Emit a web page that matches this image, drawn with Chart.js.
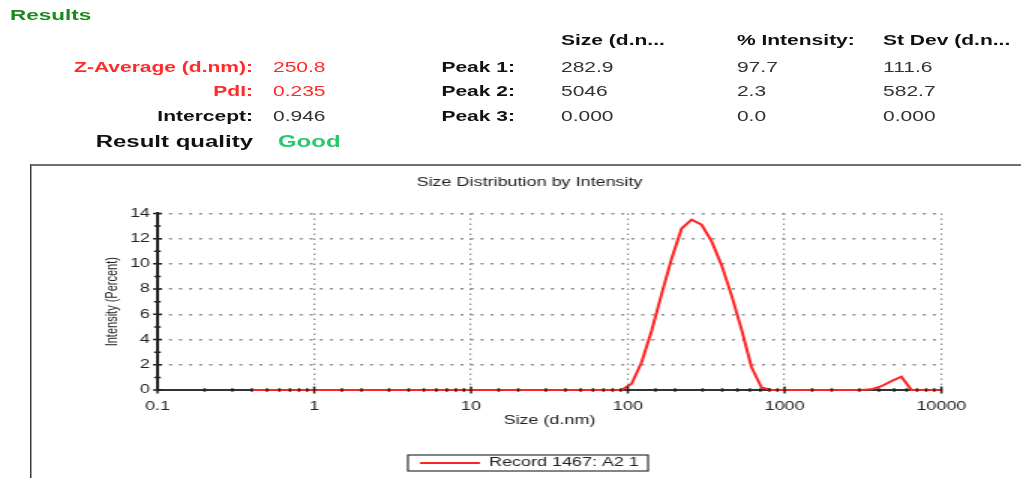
<!DOCTYPE html>
<html>
<head>
<meta charset="utf-8">
<script src="https://cdn.jsdelivr.net/npm/chart.js@4.4.1/dist/chart.umd.min.js"></script>
<style>
    html, body { margin: 0; padding: 0; background: #fff; width: 1021px; height: 478px; overflow: hidden; }
    /* the report is laid out narrow and stretched sideways, like the original screenshot */
    #page { position: absolute; left: 0; top: 0; width: 681px; height: 478px; transform: scaleX(1.5); transform-origin: 0 0;
            font-family: "Liberation Sans", Arial, sans-serif; color: #111; }
    .t { position: absolute; font-size: 14px; line-height: 16px; white-space: nowrap; }
    .b { font-weight: bold; }
    .lab { left: 0; width: 168.7px; text-align: right; }
    .pk { left: 0; width: 343.3px; text-align: right; }
    .red { color: #ff2a2a; }
    #frame { position: absolute; left: 20px; top: 164px; width: 700px; height: 400px;
             border-left: 1px solid #3a3a3a; border-top: 2px solid #707070; }
    #chartBox { position: absolute; left: 20.7px; top: 165px; width: 664px; height: 320px; }
</style>
</head>
<body>
<div id="page">
    <div class="t b" style="left:6.7px; top:7px; font-size:15px; color:#1b8a1b;">Results</div>

    <div class="t b" style="left:374px; top:32px;">Size (d.n...</div>
    <div class="t b" style="left:491.3px; top:32px;">% Intensity:</div>
    <div class="t b" style="left:588.7px; top:32px;">St Dev (d.n...</div>

    <div class="t b lab red" style="top:59px;">Z-Average (d.nm):</div>
    <div class="t red" style="left:182px; top:59px;">250.8</div>
    <div class="t b pk" style="top:59px;">Peak 1:</div>
    <div class="t" style="left:374px; top:59px; color:#333;">282.9</div>
    <div class="t" style="left:491.3px; top:59px; color:#333;">97.7</div>
    <div class="t" style="left:588.7px; top:59px; color:#333;">111.6</div>

    <div class="t b lab red" style="top:83px;">PdI:</div>
    <div class="t red" style="left:182px; top:83px;">0.235</div>
    <div class="t b pk" style="top:83px;">Peak 2:</div>
    <div class="t" style="left:374px; top:83px; color:#333;">5046</div>
    <div class="t" style="left:491.3px; top:83px; color:#333;">2.3</div>
    <div class="t" style="left:588.7px; top:83px; color:#333;">582.7</div>

    <div class="t b lab" style="top:108px;">Intercept:</div>
    <div class="t" style="left:182px; top:108px; color:#333;">0.946</div>
    <div class="t b pk" style="top:108px;">Peak 3:</div>
    <div class="t" style="left:374px; top:108px; color:#333;">0.000</div>
    <div class="t" style="left:491.3px; top:108px; color:#333;">0.0</div>
    <div class="t" style="left:588.7px; top:108px; color:#333;">0.000</div>

    <div class="t b lab" style="top:133px; font-size:16px; line-height:18px;">Result quality</div>
    <div class="t b" style="left:185.3px; top:133px; font-size:16px; line-height:18px; color:#27c86e;">Good</div>

    <div id="frame"></div>
    <div id="chartBox"><canvas id="sizeChart"></canvas></div>
</div>

<script>
// size bins (d.nm) and intensity (%)
const sizes = [0.4, 0.4632, 0.5365, 0.6213, 0.7195, 0.8332, 0.9649, 1.117, 1.294, 1.499,
    1.736, 2.01, 2.328, 2.696, 3.122, 3.615, 4.187, 4.849, 5.615, 6.503,
    7.531, 8.721, 10.1, 11.7, 13.54, 15.69, 18.17, 21.04, 24.36, 28.21,
    32.67, 37.84, 43.82, 50.75, 58.77, 68.06, 78.82, 91.28, 105.7, 122.4,
    141.8, 164.2, 190.1, 220.2, 255, 295.3, 342, 396.1, 458.7, 531.2,
    615.1, 712.4, 825, 955.4, 1106, 1281, 1484, 1718, 1990, 2305,
    2669, 3091, 3580, 4145, 4801, 5560, 6439, 7456, 8635, 10000];
const intensity = [0, 0, 0, 0, 0, 0, 0, 0, 0, 0,
    0, 0, 0, 0, 0, 0, 0, 0, 0, 0,
    0, 0, 0, 0, 0, 0, 0, 0, 0, 0,
    0, 0, 0, 0, 0, 0, 0, 0, 0.5, 2.2,
    4.7, 7.6, 10.4, 12.8, 13.5, 13.1, 11.8, 9.9, 7.5, 4.8,
    1.8, 0.2, 0, 0, 0, 0, 0, 0, 0, 0,
    0, 0, 0.05, 0.3, 0.7, 1.05, 0, 0, 0, 0];
const xTickValues = [0.1, 1, 10, 100, 1000, 10000];
const yMin = 0;
const yMax = 14;
const yStep = 2;
const seriesLabel = 'Record 1467: A2 1';

Chart.defaults.font.family = '"Liberation Sans", Arial, sans-serif';
Chart.defaults.color = '#222';

const isDecade = (v) => xTickValues.includes(v);

// small tick marks crossing both axes, drawn over the trace like the original
const tickMarks = {
    id: 'tickMarks',
    afterDatasetsDraw(chart) {
        const { ctx, chartArea, scales: { x, y } } = chart;
        ctx.save();
        ctx.strokeStyle = '#222';
        ctx.lineWidth = 1.5;
        ctx.beginPath();
        x.ticks.forEach((t) => {
            const px = x.getPixelForValue(t.value);
            const len = isDecade(t.value) ? 3.5 : 1.8;
            ctx.moveTo(px, chartArea.bottom - len);
            ctx.lineTo(px, chartArea.bottom + len);
        });
        for (let v = yMin; v <= yMax; v++) {
            const py = y.getPixelForValue(v);
            const len = v % yStep === 0 ? 3 : 2.2;
            ctx.moveTo(chartArea.left - len, py);
            ctx.lineTo(chartArea.left + len, py);
        }
        ctx.stroke();
        ctx.restore();
    }
};

// thin frame round the legend entry
const legendFrame = {
    id: 'legendFrame',
    afterDraw(chart) {
        const box = chart.legend && chart.legend.legendHitBoxes[0];
        if (!box) return;
        const ctx = chart.ctx;
        ctx.save();
        ctx.strokeStyle = '#333';
        ctx.lineWidth = 1.2;
        ctx.strokeRect(box.left - 8, box.top - 2, box.width + 14, box.height + 4);
        ctx.restore();
    }
};

const ctx = document.getElementById('sizeChart').getContext('2d');
new Chart(ctx, {
    type: 'line',
    data: {
        datasets: [{
            label: seriesLabel,
            data: sizes.map((s, i) => ({ x: s, y: intensity[i] })),
            borderColor: '#ff2424',
            backgroundColor: '#ff2424',
            borderWidth: 2,
            pointRadius: 0,
            tension: 0,
            fill: false,
            clip: false,
        }]
    },
    options: {
        responsive: true,
        maintainAspectRatio: false,
        animation: false,
        layout: { padding: { left: 0, right: 0, top: 0, bottom: 6 } },
        plugins: {
            title: {
                display: true,
                text: 'Size Distribution by Intensity',
                color: '#222',
                font: { size: 12, weight: 'normal' },
                padding: { top: 10, bottom: 24 }
            },
            legend: {
                position: 'bottom',
                labels: {
                    usePointStyle: true,
                    pointStyle: 'line',
                    pointStyleWidth: 40,
                    color: '#222',
                    font: { size: 12 },
                    padding: 6
                }
            },
            tooltip: { enabled: false }
        },
        scales: {
            x: {
                type: 'logarithmic',
                min: xTickValues[0],
                max: xTickValues[xTickValues.length - 1],
                afterFit: (scale) => { scale.height = 61; },
                grid: {
                    color: (c) => (isDecade(c.tick.value) && c.tick.value !== xTickValues[0]) ? '#8a8a8a' : 'transparent',
                    lineWidth: 1.2,
                    drawTicks: false
                },
                border: { color: '#333', width: 2, dash: [1.5, 3.5] },
                ticks: {
                    autoSkip: false,
                    maxRotation: 0,
                    padding: 9,
                    font: { size: 12 },
                    callback: (v) => isDecade(v) ? String(v) : ''
                },
                title: {
                    display: true,
                    text: 'Size (d.nm)',
                    font: { size: 12 },
                    padding: { top: 0, bottom: 23 }
                }
            },
            y: {
                min: yMin,
                max: yMax,
                afterFit: (scale) => { scale.width = 84; },
                grid: {
                    color: (c) => c.tick.value === yMin ? 'transparent' : '#8a8a8a',
                    lineWidth: 1.5,
                    drawTicks: false
                },
                border: { color: '#222', width: 2, dash: [2, 4.7] },
                ticks: { stepSize: yStep, padding: 5, font: { size: 12 } },
                title: {
                    display: true,
                    text: 'Intensity (Percent)',
                    font: { size: 11 },
                    padding: { top: 47, bottom: 0 }
                }
            },
            // empty right-hand margin, so title and legend stay centred on the whole frame
            yPad: {
                position: 'right',
                afterFit: (scale) => { scale.width = 57.4; },
                ticks: { display: false },
                grid: { display: false },
                border: { display: false }
            }
        }
    },
    plugins: [tickMarks, legendFrame]
});
</script>
</body>
</html>
